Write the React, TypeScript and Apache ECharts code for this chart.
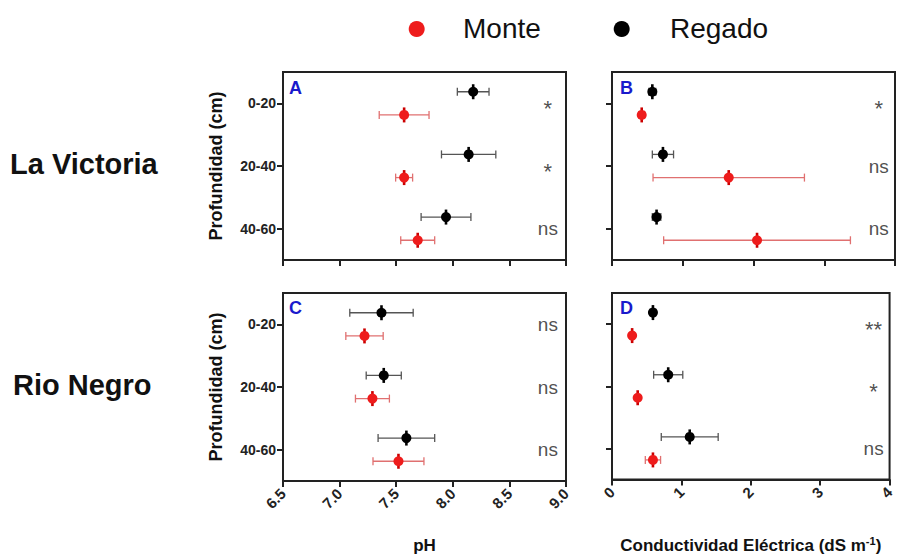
import React, { useEffect, useRef } from "react";
import * as echarts from "echarts";

const depths = ["0-20", "20-40", "40-60"];

const phTicks = [6.5, 9.0];
const ceTicks = [0, 4];

// La Victoria pH
const phLVMonte = [7.57, 7.57, 7.69];
const phLVMonteErr = [0.22, 0.075, 0.15];
const phLVRegado = [8.18, 8.14, 7.94];
const phLVRegadoErr = [0.14, 0.24, 0.22];
// La Victoria CE
const ceLVMonte = [0.42, 1.65, 2.05];
const ceLVMonteErr = [0.04, 1.07, 1.32];
const ceLVRegado = [0.57, 0.72, 0.63];
const ceLVRegadoErr = [0.05, 0.15, 0.06];
// Rio Negro pH
const phRNMonte = [7.22, 7.29, 7.52];
const phRNMonteErr = [0.165, 0.15, 0.225];
const phRNRegado = [7.37, 7.39, 7.59];
const phRNRegadoErr = [0.28, 0.155, 0.25];
// Rio Negro CE
const ceRNMonte = [0.29, 0.37, 0.59];
const ceRNMonteErr = [0.03, 0.03, 0.11];
const ceRNRegado = [0.59, 0.81, 1.12];
const ceRNRegadoErr = [0.04, 0.21, 0.41];

const sigA = ["*", "*", "ns"];
const sigB = ["*", "ns", "ns"];
const sigC = ["ns", "ns", "ns"];
const sigD = ["**", "*", "ns"];

const FONT = "Liberation Sans, Arial, sans-serif";

const MONTE = { dot: "#ee1c1c", bar: "#cc0000", err: "#e07070" };
const REGADO = { dot: "#000000", bar: "#000000", err: "#555555" };

function errData(vals: number[], errs: number[]) {
  return vals.map((v, i) => [v, i, v - errs[i], v + errs[i]]);
}

function errSeries(name: string, idx: number, vals: number[], errs: number[], sign: number, col: any) {
  return {
    type: "custom",
    name,
    xAxisIndex: idx,
    yAxisIndex: idx,
    encode: { x: [0, 2, 3], y: 1 },
    data: errData(vals, errs),
    z: sign < 0 ? 5 : 4,
    renderItem: (params: any, api: any) => {
      const x = api.value(0);
      const yi = api.value(1);
      const lo = api.value(2);
      const hi = api.value(3);
      const c = api.coord([x, yi]);
      const band = api.size([0, 1])[1];
      const y = c[1] + sign * 0.185 * band;
      const pLo = api.coord([lo, yi])[0];
      const pHi = api.coord([hi, yi])[0];
      return {
        type: "group",
        children: [
          { type: "line", shape: { x1: pLo, y1: y, x2: pHi, y2: y }, style: { stroke: col.err, lineWidth: 1.3 } },
          { type: "line", shape: { x1: pLo, y1: y - 4, x2: pLo, y2: y + 4 }, style: { stroke: col.err, lineWidth: 1.3 } },
          { type: "line", shape: { x1: pHi, y1: y - 4, x2: pHi, y2: y + 4 }, style: { stroke: col.err, lineWidth: 1.3 } },
          { type: "rect", shape: { x: c[0] - 1.3, y: y - 7.5, width: 2.6, height: 15 }, style: { fill: col.bar } },
          { type: "circle", shape: { cx: c[0], cy: y, r: 5 }, style: { fill: col.dot } },
        ],
      };
    },
  };
}

function sigSeries(idx: number, xpos: number, sig: string[]) {
  return {
    type: "scatter",
    name: "sig" + idx,
    xAxisIndex: idx,
    yAxisIndex: idx,
    symbolSize: 0,
    silent: true,
    data: sig.map((s, i) => ({
      value: [xpos, i],
      name: s,
      label: s.indexOf("*") >= 0 ? { offset: [0, 5], fontSize: 22 } : {},
    })),
    label: {
      show: true,
      position: "inside",
      formatter: "{b}",
      fontSize: 19,
      fontFamily: FONT,
      color: "#222",
    },
  };
}

export default function App() {
  const ref = useRef<HTMLDivElement>(null);
  useEffect(() => {
    if (!ref.current) return;
    const chart = echarts.init(ref.current, null, { renderer: "svg" });

    const grids = [
      { left: 283, top: 72, width: 283, height: 188 },
      { left: 612, top: 72, width: 283, height: 188 },
      { left: 283, top: 293, width: 283, height: 189 },
      { left: 612, top: 293, width: 283, height: 189 },
    ].map((g) => ({ ...g, show: true, borderColor: "#222", borderWidth: 2, backgroundColor: "transparent" }));

    const axisLine = { show: true, lineStyle: { color: "#222", width: 2 } };

    const xAxes = [0, 1, 2, 3].map((i) => {
      const isPH = i % 2 === 0;
      const bottom = i >= 2;
      return {
        type: "value",
        gridIndex: i,
        min: isPH ? phTicks[0] : ceTicks[0],
        max: isPH ? phTicks[1] : ceTicks[1],
        interval: isPH ? 0.5 : 1,
        axisLine,
        axisTick: { show: true, length: 6, lineStyle: { color: "#222", width: 2 } },
        splitLine: { show: false },
        axisLabel: {
          show: bottom,
          rotate: 45,
          margin: 10,
          fontSize: 15,
          fontWeight: "bold",
          fontFamily: FONT,
          color: "#222",
          formatter: (v: number) => (isPH ? v.toFixed(1) : String(Math.round(v))),
        },
        name: bottom ? (isPH ? "pH" : "Conductividad Eléctrica (dS m{sup|-1})") : "",
        nameLocation: "middle",
        nameGap: 56,
        nameTextStyle: {
          fontSize: 17,
          fontWeight: "bold",
          fontFamily: FONT,
          color: "#111",
          rich: {
            sup: { fontSize: 11, fontWeight: "bold", fontFamily: FONT, color: "#111", verticalAlign: "top", padding: [0, 0, 9, 0] },
          },
        },
      };
    });

    const yAxes = [0, 1, 2, 3].map((i) => {
      const left = i % 2 === 0;
      return {
        type: "category",
        gridIndex: i,
        data: depths,
        inverse: true,
        axisLine,
        axisTick: { show: true, alignWithLabel: true, length: 6, lineStyle: { color: "#222", width: 2 } },
        splitLine: { show: false },
        axisLabel: {
          show: left,
          margin: 7,
          fontSize: 14,
          fontWeight: "bold",
          fontFamily: FONT,
          color: "#222",
        },
        name: left ? "Profundidad (cm)" : "",
        nameLocation: "middle",
        nameGap: 58,
        nameTextStyle: { fontSize: 18, fontWeight: "bold", fontFamily: FONT, color: "#111" },
      };
    });

    const series: any[] = [
      errSeries("Monte", 0, phLVMonte, phLVMonteErr, 1, MONTE),
      errSeries("Regado", 0, phLVRegado, phLVRegadoErr, -1, REGADO),
      errSeries("Monte", 1, ceLVMonte, ceLVMonteErr, 1, MONTE),
      errSeries("Regado", 1, ceLVRegado, ceLVRegadoErr, -1, REGADO),
      errSeries("Monte", 2, phRNMonte, phRNMonteErr, 1, MONTE),
      errSeries("Regado", 2, phRNRegado, phRNRegadoErr, -1, REGADO),
      errSeries("Monte", 3, ceRNMonte, ceRNMonteErr, 1, MONTE),
      errSeries("Regado", 3, ceRNRegado, ceRNRegadoErr, -1, REGADO),
      sigSeries(0, 8.84, sigA),
      sigSeries(1, 3.77, sigB),
      sigSeries(2, 8.84, sigC),
      sigSeries(3, 3.77, sigD),
    ];

    const panelLetter = (t: string, x: number, y: number) => ({
      type: "text",
      left: x,
      top: y,
      style: { text: t, fontSize: 18, fontWeight: "bold", fontFamily: FONT, fill: "#1a1acc" },
    });

    chart.setOption({
      animation: false,
      backgroundColor: "#fff",
      grid: grids,
      xAxis: xAxes,
      yAxis: yAxes,
      series,
      graphic: [
        { type: "circle", shape: { cx: 416.7, cy: 29, r: 8 }, style: { fill: MONTE.dot } },
        { type: "text", left: 463, top: 14, style: { text: "Monte", fontSize: 28, fontFamily: FONT, fill: "#111" } },
        { type: "circle", shape: { cx: 621.7, cy: 29, r: 8 }, style: { fill: "#000" } },
        { type: "text", left: 670, top: 14, style: { text: "Regado", fontSize: 28, fontFamily: FONT, fill: "#111" } },
        { type: "text", left: 10, top: 149, style: { text: "La Victoria", fontSize: 29, fontWeight: "bold", fontFamily: FONT, fill: "#111" } },
        { type: "text", left: 13, top: 370, style: { text: "Rio Negro", fontSize: 29, fontWeight: "bold", fontFamily: FONT, fill: "#111" } },
        panelLetter("A", 289, 79),
        panelLetter("B", 620, 79),
        panelLetter("C", 289, 299),
        panelLetter("D", 620, 299),
      ],
    });
    return () => chart.dispose();
  }, []);
  return <div ref={ref} style={{ position: "fixed", left: 0, top: 0, width: 897, height: 555 }} />;
}
